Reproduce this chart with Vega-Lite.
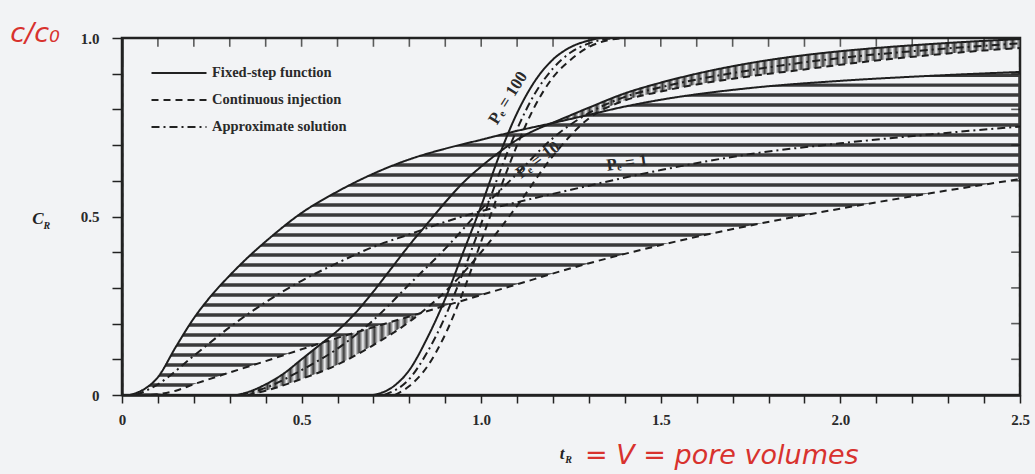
{
  "$schema": "https://vega.github.io/schema/vega-lite/v6.json",
  "width": 898,
  "height": 357,
  "autosize": {"type": "none"},
  "padding": {"left": 122, "top": 38, "right": 15, "bottom": 79},
  "background": "#f2f3f5",
  "view": {"stroke": "#222", "strokeWidth": 2.5},
  "datasets": {
    "hatchH": [
      {"x": 0.02, "lo": 0, "hi": 0}, {"x": 0.05, "lo": 0, "hi": 0.01}, {"x": 0.08, "lo": 0, "hi": 0.03},
      {"x": 0.1, "lo": 0.003, "hi": 0.05}, {"x": 0.15, "lo": 0.012, "hi": 0.135}, {"x": 0.2, "lo": 0.03, "hi": 0.215},
      {"x": 0.25, "lo": 0.046, "hi": 0.28}, {"x": 0.3, "lo": 0.063, "hi": 0.335}, {"x": 0.35, "lo": 0.079, "hi": 0.385},
      {"x": 0.4, "lo": 0.095, "hi": 0.43}, {"x": 0.5, "lo": 0.128, "hi": 0.51}, {"x": 0.6, "lo": 0.16, "hi": 0.57},
      {"x": 0.7, "lo": 0.19, "hi": 0.62}, {"x": 0.8, "lo": 0.22, "hi": 0.66}, {"x": 0.9, "lo": 0.25, "hi": 0.69},
      {"x": 1.0, "lo": 0.28, "hi": 0.715}, {"x": 1.1, "lo": 0.31, "hi": 0.74}, {"x": 1.2, "lo": 0.34, "hi": 0.762},
      {"x": 1.3, "lo": 0.368, "hi": 0.785}, {"x": 1.4, "lo": 0.394, "hi": 0.808}, {"x": 1.5, "lo": 0.42, "hi": 0.827},
      {"x": 1.75, "lo": 0.475, "hi": 0.86}, {"x": 2.0, "lo": 0.522, "hi": 0.88}, {"x": 2.25, "lo": 0.565, "hi": 0.894},
      {"x": 2.5, "lo": 0.605, "hi": 0.905}
    ],
    "hatchLines": [
      {"y": 0.014}, {"y": 0.042}, {"y": 0.07}, {"y": 0.098}, {"y": 0.126}, {"y": 0.154}, {"y": 0.182}, {"y": 0.21},
      {"y": 0.238}, {"y": 0.266}, {"y": 0.294}, {"y": 0.322}, {"y": 0.35}, {"y": 0.378}, {"y": 0.406}, {"y": 0.434},
      {"y": 0.462}, {"y": 0.49}, {"y": 0.518}, {"y": 0.546}, {"y": 0.574}, {"y": 0.602}, {"y": 0.63}, {"y": 0.658},
      {"y": 0.686}, {"y": 0.714}, {"y": 0.742}, {"y": 0.77}, {"y": 0.798}, {"y": 0.826}, {"y": 0.854}, {"y": 0.882},
      {"y": 0.91}
    ],
    "topTicks": [
      {"v": 0.1}, {"v": 0.2}, {"v": 0.3}, {"v": 0.4}, {"v": 0.5}, {"v": 0.6}, {"v": 0.7}, {"v": 0.8}, {"v": 0.9}, {"v": 1.0},
      {"v": 1.1}, {"v": 1.2}, {"v": 1.3}, {"v": 1.4}, {"v": 1.5}, {"v": 1.6}, {"v": 1.7}, {"v": 1.8}, {"v": 1.9}, {"v": 2.0},
      {"v": 2.1}, {"v": 2.2}, {"v": 2.3}, {"v": 2.4}
    ],
    "rightTicks": [
      {"v": 0.1}, {"v": 0.2}, {"v": 0.3}, {"v": 0.4}, {"v": 0.5}, {"v": 0.6}, {"v": 0.7}, {"v": 0.8}, {"v": 0.9}
    ],
    "bandL": [
      {"x": 0.32, "lo": 0, "hi": 0}, {"x": 0.35, "lo": 0, "hi": 0.008}, {"x": 0.4, "lo": 0.012, "hi": 0.03},
      {"x": 0.45, "lo": 0.027, "hi": 0.06}, {"x": 0.5, "lo": 0.045, "hi": 0.1}, {"x": 0.55, "lo": 0.063, "hi": 0.14},
      {"x": 0.6, "lo": 0.085, "hi": 0.16}, {"x": 0.7, "lo": 0.14, "hi": 0.19}, {"x": 0.8, "lo": 0.205, "hi": 0.22},
      {"x": 0.83, "lo": 0.226, "hi": 0.229}
    ],
    "bandR": [
      {"x": 1.2, "lo": 0.762, "hi": 0.763}, {"x": 1.3, "lo": 0.785, "hi": 0.805}, {"x": 1.4, "lo": 0.825, "hi": 0.845},
      {"x": 1.5, "lo": 0.85, "hi": 0.875}, {"x": 1.6, "lo": 0.87, "hi": 0.9}, {"x": 1.75, "lo": 0.893, "hi": 0.93},
      {"x": 1.9, "lo": 0.912, "hi": 0.952}, {"x": 2.0, "lo": 0.925, "hi": 0.963}, {"x": 2.1, "lo": 0.937, "hi": 0.972},
      {"x": 2.25, "lo": 0.952, "hi": 0.983}, {"x": 2.4, "lo": 0.965, "hi": 0.992}, {"x": 2.5, "lo": 0.972, "hi": 0.997}
    ],
    "curves": [
      {"pe": "1", "k": "Fixed-step function", "x": 0.02, "y": 0}, {"pe": "1", "k": "Fixed-step function", "x": 0.05, "y": 0.01},
      {"pe": "1", "k": "Fixed-step function", "x": 0.1, "y": 0.05}, {"pe": "1", "k": "Fixed-step function", "x": 0.15, "y": 0.135},
      {"pe": "1", "k": "Fixed-step function", "x": 0.2, "y": 0.215}, {"pe": "1", "k": "Fixed-step function", "x": 0.25, "y": 0.28},
      {"pe": "1", "k": "Fixed-step function", "x": 0.3, "y": 0.335}, {"pe": "1", "k": "Fixed-step function", "x": 0.35, "y": 0.385},
      {"pe": "1", "k": "Fixed-step function", "x": 0.4, "y": 0.43}, {"pe": "1", "k": "Fixed-step function", "x": 0.5, "y": 0.51},
      {"pe": "1", "k": "Fixed-step function", "x": 0.6, "y": 0.57}, {"pe": "1", "k": "Fixed-step function", "x": 0.7, "y": 0.62},
      {"pe": "1", "k": "Fixed-step function", "x": 0.8, "y": 0.66}, {"pe": "1", "k": "Fixed-step function", "x": 0.9, "y": 0.69},
      {"pe": "1", "k": "Fixed-step function", "x": 1.0, "y": 0.715}, {"pe": "1", "k": "Fixed-step function", "x": 1.1, "y": 0.74},
      {"pe": "1", "k": "Fixed-step function", "x": 1.2, "y": 0.762}, {"pe": "1", "k": "Fixed-step function", "x": 1.3, "y": 0.785},
      {"pe": "1", "k": "Fixed-step function", "x": 1.4, "y": 0.808}, {"pe": "1", "k": "Fixed-step function", "x": 1.5, "y": 0.827},
      {"pe": "1", "k": "Fixed-step function", "x": 1.75, "y": 0.86}, {"pe": "1", "k": "Fixed-step function", "x": 2.0, "y": 0.88},
      {"pe": "1", "k": "Fixed-step function", "x": 2.25, "y": 0.894}, {"pe": "1", "k": "Fixed-step function", "x": 2.5, "y": 0.905},

      {"pe": "1", "k": "Continuous injection", "x": 0.08, "y": 0}, {"pe": "1", "k": "Continuous injection", "x": 0.15, "y": 0.012},
      {"pe": "1", "k": "Continuous injection", "x": 0.2, "y": 0.03}, {"pe": "1", "k": "Continuous injection", "x": 0.3, "y": 0.063},
      {"pe": "1", "k": "Continuous injection", "x": 0.4, "y": 0.095}, {"pe": "1", "k": "Continuous injection", "x": 0.5, "y": 0.128},
      {"pe": "1", "k": "Continuous injection", "x": 0.6, "y": 0.16}, {"pe": "1", "k": "Continuous injection", "x": 0.7, "y": 0.19},
      {"pe": "1", "k": "Continuous injection", "x": 0.8, "y": 0.22}, {"pe": "1", "k": "Continuous injection", "x": 0.9, "y": 0.25},
      {"pe": "1", "k": "Continuous injection", "x": 1.0, "y": 0.28}, {"pe": "1", "k": "Continuous injection", "x": 1.1, "y": 0.31},
      {"pe": "1", "k": "Continuous injection", "x": 1.25, "y": 0.355}, {"pe": "1", "k": "Continuous injection", "x": 1.5, "y": 0.42},
      {"pe": "1", "k": "Continuous injection", "x": 1.75, "y": 0.475}, {"pe": "1", "k": "Continuous injection", "x": 2.0, "y": 0.522},
      {"pe": "1", "k": "Continuous injection", "x": 2.25, "y": 0.565}, {"pe": "1", "k": "Continuous injection", "x": 2.5, "y": 0.605},

      {"pe": "1", "k": "Approximate solution", "x": 0.04, "y": 0}, {"pe": "1", "k": "Approximate solution", "x": 0.1, "y": 0.03},
      {"pe": "1", "k": "Approximate solution", "x": 0.2, "y": 0.11}, {"pe": "1", "k": "Approximate solution", "x": 0.3, "y": 0.19},
      {"pe": "1", "k": "Approximate solution", "x": 0.4, "y": 0.26}, {"pe": "1", "k": "Approximate solution", "x": 0.5, "y": 0.32},
      {"pe": "1", "k": "Approximate solution", "x": 0.6, "y": 0.37}, {"pe": "1", "k": "Approximate solution", "x": 0.7, "y": 0.415},
      {"pe": "1", "k": "Approximate solution", "x": 0.8, "y": 0.45}, {"pe": "1", "k": "Approximate solution", "x": 0.9, "y": 0.485},
      {"pe": "1", "k": "Approximate solution", "x": 1.0, "y": 0.515}, {"pe": "1", "k": "Approximate solution", "x": 1.1, "y": 0.54},
      {"pe": "1", "k": "Approximate solution", "x": 1.25, "y": 0.575}, {"pe": "1", "k": "Approximate solution", "x": 1.5, "y": 0.63},
      {"pe": "1", "k": "Approximate solution", "x": 1.75, "y": 0.675}, {"pe": "1", "k": "Approximate solution", "x": 2.0, "y": 0.705},
      {"pe": "1", "k": "Approximate solution", "x": 2.25, "y": 0.73}, {"pe": "1", "k": "Approximate solution", "x": 2.5, "y": 0.752},

      {"pe": "10", "k": "Fixed-step function", "x": 0.32, "y": 0}, {"pe": "10", "k": "Fixed-step function", "x": 0.35, "y": 0.008},
      {"pe": "10", "k": "Fixed-step function", "x": 0.4, "y": 0.03}, {"pe": "10", "k": "Fixed-step function", "x": 0.45, "y": 0.06},
      {"pe": "10", "k": "Fixed-step function", "x": 0.5, "y": 0.1}, {"pe": "10", "k": "Fixed-step function", "x": 0.55, "y": 0.14},
      {"pe": "10", "k": "Fixed-step function", "x": 0.6, "y": 0.18}, {"pe": "10", "k": "Fixed-step function", "x": 0.65, "y": 0.23},
      {"pe": "10", "k": "Fixed-step function", "x": 0.7, "y": 0.29}, {"pe": "10", "k": "Fixed-step function", "x": 0.75, "y": 0.355},
      {"pe": "10", "k": "Fixed-step function", "x": 0.8, "y": 0.42}, {"pe": "10", "k": "Fixed-step function", "x": 0.85, "y": 0.48},
      {"pe": "10", "k": "Fixed-step function", "x": 0.9, "y": 0.54}, {"pe": "10", "k": "Fixed-step function", "x": 0.95, "y": 0.595},
      {"pe": "10", "k": "Fixed-step function", "x": 1.0, "y": 0.64}, {"pe": "10", "k": "Fixed-step function", "x": 1.05, "y": 0.68},
      {"pe": "10", "k": "Fixed-step function", "x": 1.1, "y": 0.715}, {"pe": "10", "k": "Fixed-step function", "x": 1.15, "y": 0.742},
      {"pe": "10", "k": "Fixed-step function", "x": 1.2, "y": 0.763}, {"pe": "10", "k": "Fixed-step function", "x": 1.3, "y": 0.805},
      {"pe": "10", "k": "Fixed-step function", "x": 1.4, "y": 0.845}, {"pe": "10", "k": "Fixed-step function", "x": 1.5, "y": 0.875},
      {"pe": "10", "k": "Fixed-step function", "x": 1.6, "y": 0.9}, {"pe": "10", "k": "Fixed-step function", "x": 1.75, "y": 0.93},
      {"pe": "10", "k": "Fixed-step function", "x": 1.9, "y": 0.952}, {"pe": "10", "k": "Fixed-step function", "x": 2.0, "y": 0.963},
      {"pe": "10", "k": "Fixed-step function", "x": 2.1, "y": 0.972}, {"pe": "10", "k": "Fixed-step function", "x": 2.25, "y": 0.983},
      {"pe": "10", "k": "Fixed-step function", "x": 2.4, "y": 0.992}, {"pe": "10", "k": "Fixed-step function", "x": 2.5, "y": 0.997},

      {"pe": "10", "k": "Continuous injection", "x": 0.35, "y": 0}, {"pe": "10", "k": "Continuous injection", "x": 0.4, "y": 0.012},
      {"pe": "10", "k": "Continuous injection", "x": 0.5, "y": 0.045}, {"pe": "10", "k": "Continuous injection", "x": 0.6, "y": 0.085},
      {"pe": "10", "k": "Continuous injection", "x": 0.7, "y": 0.14}, {"pe": "10", "k": "Continuous injection", "x": 0.8, "y": 0.205},
      {"pe": "10", "k": "Continuous injection", "x": 0.9, "y": 0.29}, {"pe": "10", "k": "Continuous injection", "x": 1.0, "y": 0.4},
      {"pe": "10", "k": "Continuous injection", "x": 1.1, "y": 0.53}, {"pe": "10", "k": "Continuous injection", "x": 1.2, "y": 0.67},
      {"pe": "10", "k": "Continuous injection", "x": 1.3, "y": 0.775}, {"pe": "10", "k": "Continuous injection", "x": 1.4, "y": 0.825},
      {"pe": "10", "k": "Continuous injection", "x": 1.5, "y": 0.85}, {"pe": "10", "k": "Continuous injection", "x": 1.6, "y": 0.87},
      {"pe": "10", "k": "Continuous injection", "x": 1.75, "y": 0.893}, {"pe": "10", "k": "Continuous injection", "x": 1.9, "y": 0.912},
      {"pe": "10", "k": "Continuous injection", "x": 2.0, "y": 0.925}, {"pe": "10", "k": "Continuous injection", "x": 2.1, "y": 0.937},
      {"pe": "10", "k": "Continuous injection", "x": 2.25, "y": 0.952}, {"pe": "10", "k": "Continuous injection", "x": 2.4, "y": 0.965},
      {"pe": "10", "k": "Continuous injection", "x": 2.5, "y": 0.972},

      {"pe": "10", "k": "Approximate solution", "x": 0.33, "y": 0}, {"pe": "10", "k": "Approximate solution", "x": 0.4, "y": 0.02},
      {"pe": "10", "k": "Approximate solution", "x": 0.5, "y": 0.07}, {"pe": "10", "k": "Approximate solution", "x": 0.6, "y": 0.13},
      {"pe": "10", "k": "Approximate solution", "x": 0.7, "y": 0.21}, {"pe": "10", "k": "Approximate solution", "x": 0.8, "y": 0.31},
      {"pe": "10", "k": "Approximate solution", "x": 0.9, "y": 0.41}, {"pe": "10", "k": "Approximate solution", "x": 1.0, "y": 0.52},
      {"pe": "10", "k": "Approximate solution", "x": 1.1, "y": 0.62}, {"pe": "10", "k": "Approximate solution", "x": 1.2, "y": 0.72},
      {"pe": "10", "k": "Approximate solution", "x": 1.3, "y": 0.79}, {"pe": "10", "k": "Approximate solution", "x": 1.4, "y": 0.835},
      {"pe": "10", "k": "Approximate solution", "x": 1.5, "y": 0.862}, {"pe": "10", "k": "Approximate solution", "x": 1.75, "y": 0.91},
      {"pe": "10", "k": "Approximate solution", "x": 2.0, "y": 0.944}, {"pe": "10", "k": "Approximate solution", "x": 2.25, "y": 0.967},
      {"pe": "10", "k": "Approximate solution", "x": 2.5, "y": 0.985},

      {"pe": "100", "k": "Fixed-step function", "x": 0.7, "y": 0}, {"pe": "100", "k": "Fixed-step function", "x": 0.75, "y": 0.02},
      {"pe": "100", "k": "Fixed-step function", "x": 0.8, "y": 0.07}, {"pe": "100", "k": "Fixed-step function", "x": 0.85, "y": 0.16},
      {"pe": "100", "k": "Fixed-step function", "x": 0.9, "y": 0.27}, {"pe": "100", "k": "Fixed-step function", "x": 0.95, "y": 0.4},
      {"pe": "100", "k": "Fixed-step function", "x": 1.0, "y": 0.53}, {"pe": "100", "k": "Fixed-step function", "x": 1.05, "y": 0.67},
      {"pe": "100", "k": "Fixed-step function", "x": 1.1, "y": 0.79}, {"pe": "100", "k": "Fixed-step function", "x": 1.15, "y": 0.88},
      {"pe": "100", "k": "Fixed-step function", "x": 1.2, "y": 0.94}, {"pe": "100", "k": "Fixed-step function", "x": 1.25, "y": 0.975},
      {"pe": "100", "k": "Fixed-step function", "x": 1.3, "y": 0.993}, {"pe": "100", "k": "Fixed-step function", "x": 1.33, "y": 1.0},

      {"pe": "100", "k": "Continuous injection", "x": 0.76, "y": 0}, {"pe": "100", "k": "Continuous injection", "x": 0.8, "y": 0.025},
      {"pe": "100", "k": "Continuous injection", "x": 0.85, "y": 0.08}, {"pe": "100", "k": "Continuous injection", "x": 0.9, "y": 0.17},
      {"pe": "100", "k": "Continuous injection", "x": 0.95, "y": 0.29}, {"pe": "100", "k": "Continuous injection", "x": 1.0, "y": 0.43},
      {"pe": "100", "k": "Continuous injection", "x": 1.05, "y": 0.57}, {"pe": "100", "k": "Continuous injection", "x": 1.1, "y": 0.7},
      {"pe": "100", "k": "Continuous injection", "x": 1.15, "y": 0.81}, {"pe": "100", "k": "Continuous injection", "x": 1.2, "y": 0.89},
      {"pe": "100", "k": "Continuous injection", "x": 1.25, "y": 0.94}, {"pe": "100", "k": "Continuous injection", "x": 1.3, "y": 0.975},
      {"pe": "100", "k": "Continuous injection", "x": 1.35, "y": 0.993}, {"pe": "100", "k": "Continuous injection", "x": 1.4, "y": 1.0},

      {"pe": "100", "k": "Approximate solution", "x": 0.73, "y": 0}, {"pe": "100", "k": "Approximate solution", "x": 0.8, "y": 0.045},
      {"pe": "100", "k": "Approximate solution", "x": 0.85, "y": 0.12}, {"pe": "100", "k": "Approximate solution", "x": 0.9, "y": 0.22},
      {"pe": "100", "k": "Approximate solution", "x": 0.95, "y": 0.345}, {"pe": "100", "k": "Approximate solution", "x": 1.0, "y": 0.48},
      {"pe": "100", "k": "Approximate solution", "x": 1.05, "y": 0.62}, {"pe": "100", "k": "Approximate solution", "x": 1.1, "y": 0.745},
      {"pe": "100", "k": "Approximate solution", "x": 1.15, "y": 0.845}, {"pe": "100", "k": "Approximate solution", "x": 1.2, "y": 0.915},
      {"pe": "100", "k": "Approximate solution", "x": 1.25, "y": 0.96}, {"pe": "100", "k": "Approximate solution", "x": 1.3, "y": 0.985},
      {"pe": "100", "k": "Approximate solution", "x": 1.37, "y": 1.0}
    ]
  },
  "layer": [
    {
      "data": {"name": "hatchH"},
      "mark": {"type": "area", "interpolate": "monotone", "fill": "#3a3a3a"},
      "encoding": {
        "x": {"field": "x", "type": "quantitative", "scale": {"domain": [0, 2.5], "nice": false, "zero": false},
          "axis": {"orient": "bottom", "values": [0,0.1,0.2,0.3,0.4,0.5,0.6,0.7,0.8,0.9,1,1.1,1.2,1.3,1.4,1.5,1.6,1.7,1.8,1.9,2,2.1,2.2,2.3,2.4,2.5],
            "labelExpr": "abs(datum.value*2 - round(datum.value*2)) < 0.001 ? (datum.value == 0 ? '0' : format(datum.value, '.1f')) : ''",
            "labelOverlap": false, "labelFlush": false, "tickSize": 8, "tickWidth": 1.5, "tickColor": "#222",
            "domainColor": "#222", "domainWidth": 2.5, "labelFont": "Liberation Serif", "labelFontSize": 15, "labelFontWeight": "bold",
            "labelColor": "#2a2a2a", "labelPadding": 9, "title": null, "grid": false, "zindex": 1}},
        "y": {"field": "hi", "type": "quantitative", "scale": {"domain": [0, 1], "nice": false, "zero": false},
          "axis": {"orient": "left", "values": [0,0.1,0.2,0.3,0.4,0.5,0.6,0.7,0.8,0.9,1],
            "labelExpr": "abs(datum.value*2 - round(datum.value*2)) < 0.001 ? (datum.value == 0 ? '0' : format(datum.value, '.1f')) : ''",
            "labelOverlap": false, "labelFlush": false, "tickSize": 10, "tickWidth": 1.5, "tickColor": "#222",
            "domainColor": "#222", "domainWidth": 2.5, "labelFont": "Liberation Serif", "labelFontSize": 15, "labelFontWeight": "bold",
            "labelColor": "#2a2a2a", "labelPadding": 13, "title": null, "grid": false, "zindex": 1}},
        "y2": {"field": "lo"}
      }
    },
    {
      "data": {"name": "hatchLines"},
      "mark": {"type": "rule", "color": "#f2f3f5", "strokeWidth": 6.5},
      "encoding": {
        "x": {"datum": 0, "type": "quantitative", "scale": {"domain": [0, 2.5], "nice": false, "zero": false}, "axis": null},
        "x2": {"datum": 2.495},
        "y": {"field": "y", "type": "quantitative", "scale": {"domain": [0, 1], "nice": false, "zero": false}, "axis": null}
      }
    },
    {
      "data": {"name": "bandL"},
      "mark": {"type": "area", "interpolate": "monotone",
        "fill": {"gradient": "linear", "x1": 0, "y1": 0, "x2": 1, "y2": 0, "stops": [
          {"offset":0,"color":"#3a3a3a"},{"offset":0.0208,"color":"#f2f3f5"},{"offset":0.0417,"color":"#3a3a3a"},{"offset":0.0625,"color":"#f2f3f5"},{"offset":0.0833,"color":"#3a3a3a"},{"offset":0.1042,"color":"#f2f3f5"},{"offset":0.125,"color":"#3a3a3a"},{"offset":0.1458,"color":"#f2f3f5"},{"offset":0.1667,"color":"#3a3a3a"},{"offset":0.1875,"color":"#f2f3f5"},{"offset":0.2083,"color":"#3a3a3a"},{"offset":0.2292,"color":"#f2f3f5"},{"offset":0.25,"color":"#3a3a3a"},{"offset":0.2708,"color":"#f2f3f5"},{"offset":0.2917,"color":"#3a3a3a"},{"offset":0.3125,"color":"#f2f3f5"},{"offset":0.3333,"color":"#3a3a3a"},{"offset":0.3542,"color":"#f2f3f5"},{"offset":0.375,"color":"#3a3a3a"},{"offset":0.3958,"color":"#f2f3f5"},{"offset":0.4167,"color":"#3a3a3a"},{"offset":0.4375,"color":"#f2f3f5"},{"offset":0.4583,"color":"#3a3a3a"},{"offset":0.4792,"color":"#f2f3f5"},{"offset":0.5,"color":"#3a3a3a"},{"offset":0.5208,"color":"#f2f3f5"},{"offset":0.5417,"color":"#3a3a3a"},{"offset":0.5625,"color":"#f2f3f5"},{"offset":0.5833,"color":"#3a3a3a"},{"offset":0.6042,"color":"#f2f3f5"},{"offset":0.625,"color":"#3a3a3a"},{"offset":0.6458,"color":"#f2f3f5"},{"offset":0.6667,"color":"#3a3a3a"},{"offset":0.6875,"color":"#f2f3f5"},{"offset":0.7083,"color":"#3a3a3a"},{"offset":0.7292,"color":"#f2f3f5"},{"offset":0.75,"color":"#3a3a3a"},{"offset":0.7708,"color":"#f2f3f5"},{"offset":0.7917,"color":"#3a3a3a"},{"offset":0.8125,"color":"#f2f3f5"},{"offset":0.8333,"color":"#3a3a3a"},{"offset":0.8542,"color":"#f2f3f5"},{"offset":0.875,"color":"#3a3a3a"},{"offset":0.8958,"color":"#f2f3f5"},{"offset":0.9167,"color":"#3a3a3a"},{"offset":0.9375,"color":"#f2f3f5"},{"offset":0.9583,"color":"#3a3a3a"},{"offset":0.9792,"color":"#f2f3f5"},{"offset":1,"color":"#3a3a3a"}
        ]}},
      "encoding": {
        "x": {"field": "x", "type": "quantitative", "scale": {"domain": [0, 2.5], "nice": false, "zero": false}, "axis": null},
        "y": {"field": "hi", "type": "quantitative", "scale": {"domain": [0, 1], "nice": false, "zero": false}, "axis": null},
        "y2": {"field": "lo"}
      }
    },
    {
      "data": {"name": "bandR"},
      "mark": {"type": "area", "interpolate": "monotone",
        "fill": {"gradient": "linear", "x1": 0, "y1": 0, "x2": 1, "y2": 0, "stops": [
          {"offset":0,"color":"#3a3a3a"},{"offset":0.0078,"color":"#f2f3f5"},{"offset":0.0156,"color":"#3a3a3a"},{"offset":0.0234,"color":"#f2f3f5"},{"offset":0.0313,"color":"#3a3a3a"},{"offset":0.0391,"color":"#f2f3f5"},{"offset":0.0469,"color":"#3a3a3a"},{"offset":0.0547,"color":"#f2f3f5"},{"offset":0.0625,"color":"#3a3a3a"},{"offset":0.0703,"color":"#f2f3f5"},{"offset":0.0781,"color":"#3a3a3a"},{"offset":0.0859,"color":"#f2f3f5"},{"offset":0.0938,"color":"#3a3a3a"},{"offset":0.1016,"color":"#f2f3f5"},{"offset":0.1094,"color":"#3a3a3a"},{"offset":0.1172,"color":"#f2f3f5"},{"offset":0.125,"color":"#3a3a3a"},{"offset":0.1328,"color":"#f2f3f5"},{"offset":0.1406,"color":"#3a3a3a"},{"offset":0.1484,"color":"#f2f3f5"},{"offset":0.1563,"color":"#3a3a3a"},{"offset":0.1641,"color":"#f2f3f5"},{"offset":0.1719,"color":"#3a3a3a"},{"offset":0.1797,"color":"#f2f3f5"},{"offset":0.1875,"color":"#3a3a3a"},{"offset":0.1953,"color":"#f2f3f5"},{"offset":0.2031,"color":"#3a3a3a"},{"offset":0.2109,"color":"#f2f3f5"},{"offset":0.2188,"color":"#3a3a3a"},{"offset":0.2266,"color":"#f2f3f5"},{"offset":0.2344,"color":"#3a3a3a"},{"offset":0.2422,"color":"#f2f3f5"},{"offset":0.25,"color":"#3a3a3a"},{"offset":0.2578,"color":"#f2f3f5"},{"offset":0.2656,"color":"#3a3a3a"},{"offset":0.2734,"color":"#f2f3f5"},{"offset":0.2813,"color":"#3a3a3a"},{"offset":0.2891,"color":"#f2f3f5"},{"offset":0.2969,"color":"#3a3a3a"},{"offset":0.3047,"color":"#f2f3f5"},{"offset":0.3125,"color":"#3a3a3a"},{"offset":0.3203,"color":"#f2f3f5"},{"offset":0.3281,"color":"#3a3a3a"},{"offset":0.3359,"color":"#f2f3f5"},{"offset":0.3438,"color":"#3a3a3a"},{"offset":0.3516,"color":"#f2f3f5"},{"offset":0.3594,"color":"#3a3a3a"},{"offset":0.3672,"color":"#f2f3f5"},{"offset":0.375,"color":"#3a3a3a"},{"offset":0.3828,"color":"#f2f3f5"},{"offset":0.3906,"color":"#3a3a3a"},{"offset":0.3984,"color":"#f2f3f5"},{"offset":0.4063,"color":"#3a3a3a"},{"offset":0.4141,"color":"#f2f3f5"},{"offset":0.4219,"color":"#3a3a3a"},{"offset":0.4297,"color":"#f2f3f5"},{"offset":0.4375,"color":"#3a3a3a"},{"offset":0.4453,"color":"#f2f3f5"},{"offset":0.4531,"color":"#3a3a3a"},{"offset":0.4609,"color":"#f2f3f5"},{"offset":0.4688,"color":"#3a3a3a"},{"offset":0.4766,"color":"#f2f3f5"},{"offset":0.4844,"color":"#3a3a3a"},{"offset":0.4922,"color":"#f2f3f5"},{"offset":0.5,"color":"#3a3a3a"},{"offset":0.5078,"color":"#f2f3f5"},{"offset":0.5156,"color":"#3a3a3a"},{"offset":0.5234,"color":"#f2f3f5"},{"offset":0.5313,"color":"#3a3a3a"},{"offset":0.5391,"color":"#f2f3f5"},{"offset":0.5469,"color":"#3a3a3a"},{"offset":0.5547,"color":"#f2f3f5"},{"offset":0.5625,"color":"#3a3a3a"},{"offset":0.5703,"color":"#f2f3f5"},{"offset":0.5781,"color":"#3a3a3a"},{"offset":0.5859,"color":"#f2f3f5"},{"offset":0.5938,"color":"#3a3a3a"},{"offset":0.6016,"color":"#f2f3f5"},{"offset":0.6094,"color":"#3a3a3a"},{"offset":0.6172,"color":"#f2f3f5"},{"offset":0.625,"color":"#3a3a3a"},{"offset":0.6328,"color":"#f2f3f5"},{"offset":0.6406,"color":"#3a3a3a"},{"offset":0.6484,"color":"#f2f3f5"},{"offset":0.6563,"color":"#3a3a3a"},{"offset":0.6641,"color":"#f2f3f5"},{"offset":0.6719,"color":"#3a3a3a"},{"offset":0.6797,"color":"#f2f3f5"},{"offset":0.6875,"color":"#3a3a3a"},{"offset":0.6953,"color":"#f2f3f5"},{"offset":0.7031,"color":"#3a3a3a"},{"offset":0.7109,"color":"#f2f3f5"},{"offset":0.7188,"color":"#3a3a3a"},{"offset":0.7266,"color":"#f2f3f5"},{"offset":0.7344,"color":"#3a3a3a"},{"offset":0.7422,"color":"#f2f3f5"},{"offset":0.75,"color":"#3a3a3a"},{"offset":0.7578,"color":"#f2f3f5"},{"offset":0.7656,"color":"#3a3a3a"},{"offset":0.7734,"color":"#f2f3f5"},{"offset":0.7813,"color":"#3a3a3a"},{"offset":0.7891,"color":"#f2f3f5"},{"offset":0.7969,"color":"#3a3a3a"},{"offset":0.8047,"color":"#f2f3f5"},{"offset":0.8125,"color":"#3a3a3a"},{"offset":0.8203,"color":"#f2f3f5"},{"offset":0.8281,"color":"#3a3a3a"},{"offset":0.8359,"color":"#f2f3f5"},{"offset":0.8438,"color":"#3a3a3a"},{"offset":0.8516,"color":"#f2f3f5"},{"offset":0.8594,"color":"#3a3a3a"},{"offset":0.8672,"color":"#f2f3f5"},{"offset":0.875,"color":"#3a3a3a"},{"offset":0.8828,"color":"#f2f3f5"},{"offset":0.8906,"color":"#3a3a3a"},{"offset":0.8984,"color":"#f2f3f5"},{"offset":0.9063,"color":"#3a3a3a"},{"offset":0.9141,"color":"#f2f3f5"},{"offset":0.9219,"color":"#3a3a3a"},{"offset":0.9297,"color":"#f2f3f5"},{"offset":0.9375,"color":"#3a3a3a"},{"offset":0.9453,"color":"#f2f3f5"},{"offset":0.9531,"color":"#3a3a3a"},{"offset":0.9609,"color":"#f2f3f5"},{"offset":0.9688,"color":"#3a3a3a"},{"offset":0.9766,"color":"#f2f3f5"},{"offset":0.9844,"color":"#3a3a3a"},{"offset":0.9922,"color":"#f2f3f5"},{"offset":1,"color":"#3a3a3a"}
        ]}},
      "encoding": {
        "x": {"field": "x", "type": "quantitative", "scale": {"domain": [0, 2.5], "nice": false, "zero": false}, "axis": null},
        "y": {"field": "hi", "type": "quantitative", "scale": {"domain": [0, 1], "nice": false, "zero": false}, "axis": null},
        "y2": {"field": "lo"}
      }
    },
    {
      "data": {"name": "topTicks"},
      "mark": {"type": "tick", "color": "#1a1a1a", "thickness": 1.6, "size": 9, "orient": "vertical"},
      "encoding": {
        "x": {"field": "v", "type": "quantitative", "scale": {"domain": [0, 2.5], "nice": false, "zero": false}, "axis": null},
        "y": {"datum": 0.988, "type": "quantitative", "scale": {"domain": [0, 1], "nice": false, "zero": false}, "axis": null}
      }
    },
    {
      "data": {"name": "rightTicks"},
      "mark": {"type": "tick", "color": "#1a1a1a", "thickness": 1.6, "size": 9, "orient": "horizontal"},
      "encoding": {
        "y": {"field": "v", "type": "quantitative", "scale": {"domain": [0, 1], "nice": false, "zero": false}, "axis": null},
        "x": {"datum": 2.488, "type": "quantitative", "scale": {"domain": [0, 2.5], "nice": false, "zero": false}, "axis": null}
      }
    },
    {
      "data": {"name": "curves"},
      "mark": {"type": "line", "interpolate": "monotone", "color": "#1e1e1e", "strokeWidth": 2},
      "encoding": {
        "x": {"field": "x", "type": "quantitative", "scale": {"domain": [0, 2.5], "nice": false, "zero": false}, "axis": null},
        "y": {"field": "y", "type": "quantitative", "scale": {"domain": [0, 1], "nice": false, "zero": false}, "axis": null},
        "detail": {"field": "pe", "type": "nominal"},
        "strokeDash": {"field": "k", "type": "nominal",
          "scale": {"domain": ["Fixed-step function", "Continuous injection", "Approximate solution"], "range": [[1, 0], [7, 5], [8, 4, 2, 4]]},
          "legend": {"orient": "none", "legendX": 43, "legendY": 21, "padding": 0, "title": null, "symbolType": "M-2.2,0L2.2,0",
            "symbolStrokeColor": "#222", "symbolStrokeWidth": 2.2, "symbolSize": 625, "symbolFillColor": "transparent", "labelFont": "Liberation Serif",
            "labelFontSize": 14.5, "labelFontWeight": "bold", "labelColor": "#2a2a2a", "rowPadding": 6, "labelOffset": 19, "zindex": 1}}
      }
    },
    {
      "data": {"values": [{"x": 1.075, "y": 0.832, "t": "Pₑ = 100"}]},
      "mark": {"type": "text", "angle": -58, "font": "Liberation Serif", "fontSize": 17, "fontWeight": "bold", "color": "#2a2a2a", "align": "center", "baseline": "middle"},
      "encoding": {
        "x": {"field": "x", "type": "quantitative", "scale": {"domain": [0, 2.5], "nice": false, "zero": false}, "axis": null},
        "y": {"field": "y", "type": "quantitative", "scale": {"domain": [0, 1], "nice": false, "zero": false}, "axis": null},
        "text": {"field": "t"}
      }
    },
    {
      "data": {"values": [{"x": 1.158, "y": 0.658, "t": "Pₑ = 10"}]},
      "mark": {"type": "text", "angle": -37, "font": "Liberation Serif", "fontSize": 17, "fontWeight": "bold", "color": "#2a2a2a", "align": "center", "baseline": "middle"},
      "encoding": {
        "x": {"field": "x", "type": "quantitative", "scale": {"domain": [0, 2.5], "nice": false, "zero": false}, "axis": null},
        "y": {"field": "y", "type": "quantitative", "scale": {"domain": [0, 1], "nice": false, "zero": false}, "axis": null},
        "text": {"field": "t"}
      }
    },
    {
      "data": {"values": [{"x": 1.406, "y": 0.65, "t": "Pₑ = 1"}]},
      "mark": {"type": "text", "angle": -8, "font": "Liberation Serif", "fontSize": 17, "fontWeight": "bold", "color": "#2a2a2a", "align": "center", "baseline": "middle"},
      "encoding": {
        "x": {"field": "x", "type": "quantitative", "scale": {"domain": [0, 2.5], "nice": false, "zero": false}, "axis": null},
        "y": {"field": "y", "type": "quantitative", "scale": {"domain": [0, 1], "nice": false, "zero": false}, "axis": null},
        "text": {"field": "t"}
      }
    },
    {
      "data": {"values": [{"x": -0.234, "y": 0.493, "t": "C"}, {"x": 1.225, "y": -0.165, "t": "t"}]},
      "mark": {"type": "text", "font": "Liberation Serif", "fontSize": 17, "fontWeight": "bold", "fontStyle": "italic", "color": "#222", "align": "center", "baseline": "middle"},
      "encoding": {
        "x": {"field": "x", "type": "quantitative", "scale": {"domain": [0, 2.5], "nice": false, "zero": false}, "axis": null},
        "y": {"field": "y", "type": "quantitative", "scale": {"domain": [0, 1], "nice": false, "zero": false}, "axis": null},
        "text": {"field": "t"}
      }
    },
    {
      "data": {"values": [{"x": -0.209, "y": 0.472, "t": "R"}, {"x": 1.243, "y": -0.182, "t": "R"}]},
      "mark": {"type": "text", "font": "Liberation Serif", "fontSize": 10, "fontWeight": "bold", "fontStyle": "italic", "color": "#222", "align": "center", "baseline": "middle"},
      "encoding": {
        "x": {"field": "x", "type": "quantitative", "scale": {"domain": [0, 2.5], "nice": false, "zero": false}, "axis": null},
        "y": {"field": "y", "type": "quantitative", "scale": {"domain": [0, 1], "nice": false, "zero": false}, "axis": null},
        "text": {"field": "t"}
      }
    },
    {
      "data": {"values": [{"x": -0.242, "y": 1.01, "t": "c/c₀"}]},
      "mark": {"type": "text", "font": "DejaVu Sans", "fontSize": 27, "fontStyle": "italic", "color": "#d8322e", "align": "center", "baseline": "middle"},
      "encoding": {
        "x": {"field": "x", "type": "quantitative", "scale": {"domain": [0, 2.5], "nice": false, "zero": false}, "axis": null},
        "y": {"field": "y", "type": "quantitative", "scale": {"domain": [0, 1], "nice": false, "zero": false}, "axis": null},
        "text": {"field": "t"}
      }
    },
    {
      "data": {"values": [{"x": 1.67, "y": -0.172, "t": "= V = pore volumes"}]},
      "mark": {"type": "text", "font": "DejaVu Sans", "fontSize": 27, "fontStyle": "italic", "color": "#d8322e", "align": "center", "baseline": "middle"},
      "encoding": {
        "x": {"field": "x", "type": "quantitative", "scale": {"domain": [0, 2.5], "nice": false, "zero": false}, "axis": null},
        "y": {"field": "y", "type": "quantitative", "scale": {"domain": [0, 1], "nice": false, "zero": false}, "axis": null},
        "text": {"field": "t"}
      }
    }
  ],
  "resolve": {"axis": {"x": "independent", "y": "independent"}}
}
